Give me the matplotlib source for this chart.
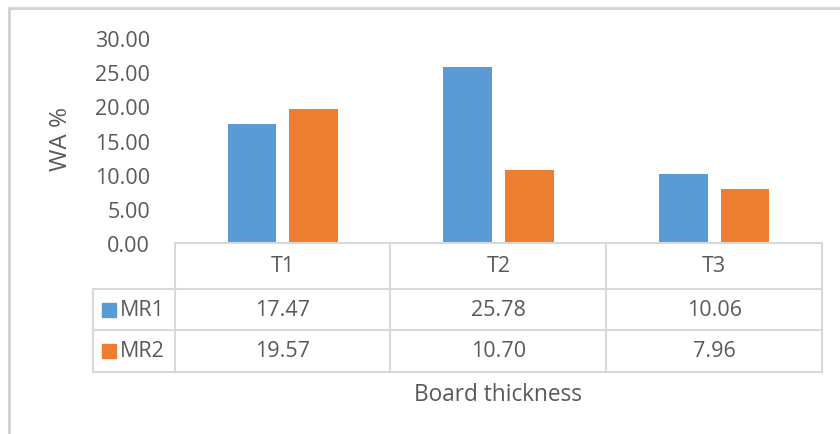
import numpy as np
import matplotlib
matplotlib.use("Agg")
import matplotlib.pyplot as plt
from matplotlib.lines import Line2D
from matplotlib.patches import Rectangle
from matplotlib.transforms import blended_transform_factory

# Data
categories = ["T1", "T2", "T3"]
series_names = ["MR1", "MR2"]
mr1 = [17.47, 25.78, 10.06]
mr2 = [19.57, 10.70, 7.96]
y_ticks = [0, 5, 10, 15, 20, 25, 30]

colors = ["#5B9BD5", "#ED7D31"]
text_color = "#595959"
line_color = "#D9D9D9"
font = "Open Sans"
fs = 15.5

W, H = 840, 435
fig = plt.figure(figsize=(W / 100, H / 100), dpi=100)


def fx(x):
    return x / W


def fy(y):
    return 1 - y / H


# outer chart frame (only top and left edges fall inside the image)
fig.patches.append(Rectangle((fx(9), fy(460)), fx(900), fy(9) - fy(460),
                             transform=fig.transFigure, fill=False,
                             edgecolor="#D0D0D0", linewidth=2))

left, right, top, bottom = 175, 822, 39, 244
ax = fig.add_axes([fx(left), fy(bottom), fx(right - left), (bottom - top) / H])

x = np.arange(len(categories))
bw = 0.227
off = 0.143
ax.bar(x - off, mr1, bw, color=colors[0])
ax.bar(x + off, mr2, bw, color=colors[1])

ax.set_xlim(-0.5, len(categories) - 0.5)
ax.set_ylim(0, 30)
ax.set_yticks(y_ticks)
ax.set_yticklabels([f"{v:.2f}" for v in y_ticks], fontsize=fs,
                   color=text_color, family=font)
ax.tick_params(axis="y", length=0, pad=18)
ax.set_xticks([])
for s in ["top", "right", "left"]:
    ax.spines[s].set_visible(False)
ax.spines["bottom"].set_color(line_color)
ax.spines["bottom"].set_linewidth(1.5)

fig.text(fx(61), fy(139), "WA %", rotation=90, ha="center", va="center",
         fontsize=17.5, color=text_color, family=font)

# data table below the plot
row_y = [244, 290, 331, 373]
col_x = [175, 390, 606, 822]
leg_x0 = 93
lkw = dict(color=line_color, linewidth=1.5, transform=fig.transFigure)
for y in row_y[1:]:
    fig.add_artist(Line2D([fx(leg_x0), fx(col_x[-1])], [fy(y), fy(y)], **lkw))
for cx in col_x:
    fig.add_artist(Line2D([fx(cx), fx(cx)], [fy(row_y[0]), fy(row_y[-1])], **lkw))
fig.add_artist(Line2D([fx(leg_x0), fx(leg_x0)], [fy(row_y[1]), fy(row_y[-1])], **lkw))

trans = blended_transform_factory(ax.transData, fig.transFigure)
tkw = dict(ha="center", va="center", color=text_color, family=font, fontsize=fs)
for i, cat in enumerate(categories):
    ax.text(i, fy((row_y[0] + row_y[1]) / 2), cat, transform=trans, clip_on=False, **tkw)
for r, vals in enumerate([mr1, mr2]):
    yc = fy((row_y[r + 1] + row_y[r + 2]) / 2)
    for i, v in enumerate(vals):
        ax.text(i, yc, f"{v:.2f}", transform=trans, clip_on=False, **tkw)
    # legend key and series name
    fig.patches.append(Rectangle((fx(102), yc - 7 / H), 14 / W, 14 / H,
                                 transform=fig.transFigure, color=colors[r]))
    fig.text(fx(120), yc, series_names[r], ha="left", va="center",
             color=text_color, family=font, fontsize=fs)

fig.text(fx(498), fy(395), "Board thickness", ha="center", va="center",
         color=text_color, family=font, fontsize=16.3)

fig.savefig("out.png", dpi=100, facecolor="white")
